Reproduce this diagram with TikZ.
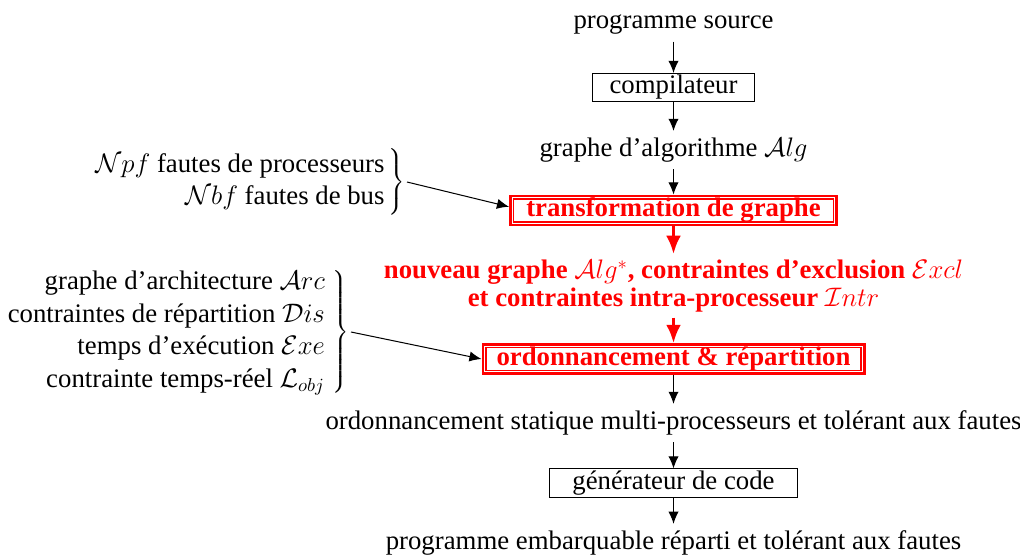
\documentclass[tikz,border=0pt]{standalone}
\usepackage{fontspec}
\setmainfont{Liberation Serif}
\usetikzlibrary{arrows.meta}

\tikzset{
  every node/.style={font=\fontsize{14.4}{17.5}\selectfont},
  plain/.style={inner sep=3.5pt},
  box/.style={draw, line width=0.55pt, minimum width=87.1pt, minimum height=13.9pt, inner sep=1pt},
  redbox/.style={draw=red, text=red, line width=1.6pt, inner sep=1pt,
    font=\fontsize{14.4}{17.5}\selectfont\bfseries},
  innerframe/.style={draw=red, line width=0.8pt},
  redtext/.style={text=red, align=center, inner sep=3pt,
    font=\fontsize{14.4}{14.6}\selectfont\bfseries},
  group/.style={inner sep=1pt, anchor=east},
  arr/.style={-{Latex[length=6.5pt,width=5.5pt]}, line width=0.55pt},
  redarr/.style={-{Latex[length=10pt,width=8pt]}, line width=2pt, draw=red},
}

\begin{document}
\begin{tikzpicture}[x=0.5378pt,y=-0.5378pt]
\useasboundingbox (0,0) rectangle (1020,555);

% main flow
\node[plain] (src) at (673.5,25) {programme source};
\node[box] (comp) at (673.5,87.5) {compilateur};
\node[plain] (alg) at (673.5,150) {graphe d'algorithme $\mathcal{A}lg$};
\node[redbox, minimum width=175.3pt, minimum height=15.6pt] (trans) at (673.5,210.5) {transformation de graphe};
\node[redtext] (new) at (673.5,286) {nouveau graphe $\mathcal{A}lg^*$, contraintes d'exclusion $\mathcal{E}xcl$\\ et contraintes intra-processeur $\mathcal{I}ntr$};
\node[redbox, minimum width=204.9pt, minimum height=15.1pt] (ord) at (673.5,359) {ordonnancement \& répartition};
\node[plain] (stat) at (673.5,423) {ordonnancement statique multi-processeurs et tolérant aux fautes};
\node[box, minimum width=133.3pt] (gen) at (673.5,483) {générateur de code};
\node[plain] (prog) at (673.5,543) {programme embarquable réparti et tolérant aux fautes};

% inner lines of the red double frames
\foreach \n in {trans,ord}
  \draw[innerframe] ([shift={(2.3pt,2.3pt)}]\n.south west) rectangle ([shift={(-2.3pt,-2.3pt)}]\n.north east);

% side inputs
\node[group] (faults) at (407,182) {$\left.\begin{tabular}{@{}r@{\hspace{2pt}}}$\mathcal{N}pf$ fautes de processeurs\\ $\mathcal{N}bf$ fautes de bus\end{tabular}\right\}$};
\node[group] (arch) at (351,332) {$\left.\begin{tabular}{@{}r@{\hspace{4pt}}}graphe d'architecture $\mathcal{A}rc$\\ contraintes de répartition $\mathcal{D}is$\\ temps d'exécution $\mathcal{E}xe$\\ contrainte temps-réel $\mathcal{L}_{obj}$\end{tabular}\right\}$};

% connectors
\draw[arr] (src) -- (comp);
\draw[arr] (comp) -- (alg);
\draw[arr] (alg) -- (trans);
\draw[redarr] (trans) -- (new);
\draw[redarr] (new) -- (ord);
\draw[arr] (ord) -- (stat);
\draw[arr] (stat) -- (gen);
\draw[arr] (gen) -- (prog);
\draw[arr] (faults.east) -- ([yshift=2pt]trans.west);
\draw[arr] (arch.east) -- (ord.west);
\end{tikzpicture}
\end{document}
